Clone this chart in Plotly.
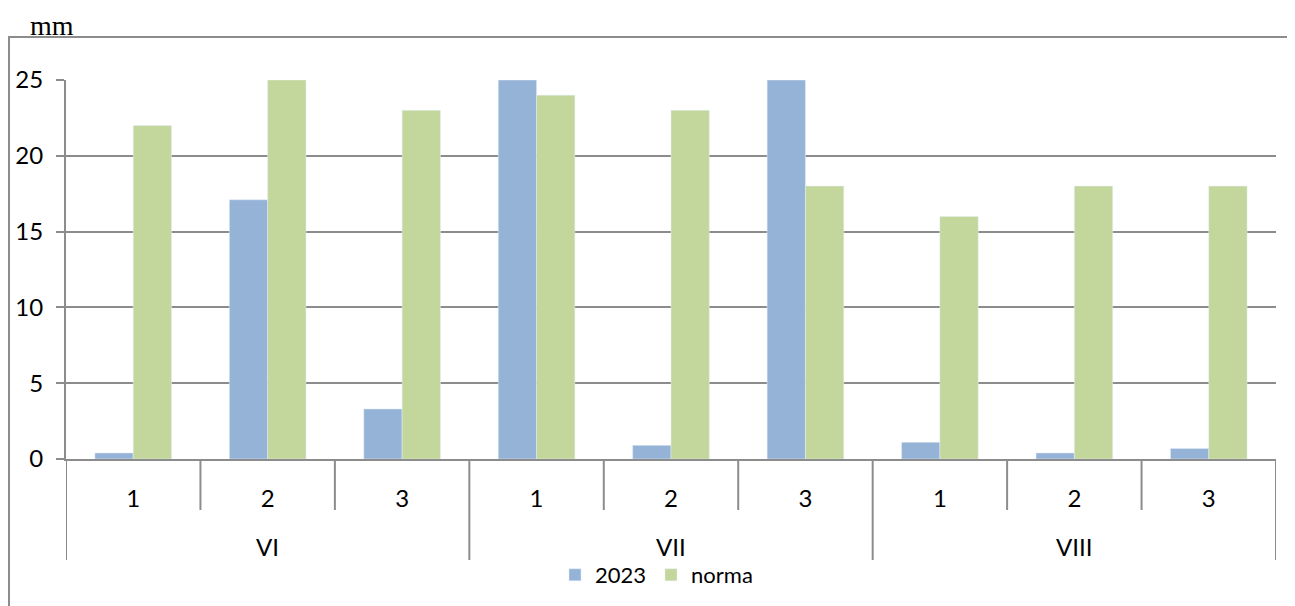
import plotly.graph_objects as go

months = ["VI", "VII", "VIII"]
decades = ["1", "2", "3"]
rain_2023 = [0.4, 17.1, 3.3, 25, 0.9, 25, 1.1, 0.4, 0.7]
rain_norma = [22, 25, 23, 24, 23, 18, 16, 18, 18]
y_ticks = [0, 5, 10, 15, 20, 25]

n_dec = len(decades)
idx = list(range(len(months) * n_dec))
tick_text = [decades[i % n_dec] for i in idx]

FONT = "Lato, 'Open Sans', sans-serif"
GRID = "#8c8c8c"
FS = 24

fig = go.Figure()
fig.add_trace(go.Bar(x=idx, y=rain_2023, name="2023", marker_color="#95B3D7"))
fig.add_trace(go.Bar(x=idx, y=rain_norma, name="norma", marker_color="#C3D69B"))

shapes = []
# inner boundaries
for i in range(1, len(idx)):
    b = i - 0.5
    if i % n_dec == 0:
        continue
    shapes.append(dict(type="line", xref="x", yref="paper", x0=b, x1=b, y0=0, y1=-0.1346,
                       line=dict(color=GRID, width=2)))
# outer (month) boundaries
for g in range(len(months) + 1):
    b = g * n_dec - 0.5
    shapes.append(dict(type="line", xref="x", yref="paper", x0=b, x1=b, y0=0, y1=-0.2665,
                       line=dict(color=GRID, width=2)))
# chart border
shapes.append(dict(type="rect", xref="paper", yref="paper", x0=-0.0471, x1=1.1, y0=-0.5, y1=1.1135,
                   line=dict(color=GRID, width=2), fillcolor="rgba(0,0,0,0)", layer="below"))

annotations = []
for g, m in enumerate(months):
    annotations.append(dict(x=g * n_dec + (n_dec - 1) / 2, y=-0.232, xref="x", yref="paper",
                            text=m, showarrow=False, font=dict(size=FS, color="black", family=FONT),
                            xanchor="center", yanchor="middle"))
annotations.append(dict(x=-0.031, y=1.145, xref="paper", yref="paper", text="mm", showarrow=False,
                        font=dict(size=28, color="black", family="'Liberation Serif', serif"),
                        xanchor="left", yanchor="middle"))

fig.update_layout(
    width=1287, height=598,
    margin=dict(l=58, r=19, t=72, b=147, autoexpand=False),
    paper_bgcolor="white", plot_bgcolor="white",
    barmode="group", bargap=0.43, bargroupgap=0,
    font=dict(family=FONT, size=FS, color="black"),
    shapes=shapes, annotations=annotations,
    legend=dict(orientation="h", x=0.488, xanchor="center", y=-0.306, yanchor="middle",
                font=dict(size=22, family=FONT), itemwidth=30, traceorder="normal"),
    xaxis=dict(range=[-0.5, len(idx) - 0.5], tickvals=idx, ticktext=tick_text, ticks="",
               showgrid=False, showline=True, linecolor=GRID, linewidth=2, zeroline=False,
               automargin=False,
               ticklabelstandoff=17, tickfont=dict(size=FS, family=FONT, color="black")),
    yaxis=dict(range=[0, 25], tickvals=y_ticks, showgrid=True, gridcolor=GRID, gridwidth=2,
               showline=True, linecolor=GRID, linewidth=2, ticks="outside", ticklen=8,
               tickcolor=GRID, tickwidth=2, zeroline=False, ticklabelstandoff=8,
               automargin=False,
               tickfont=dict(size=FS, family=FONT, color="black")),
)

fig.write_html("out.html")
